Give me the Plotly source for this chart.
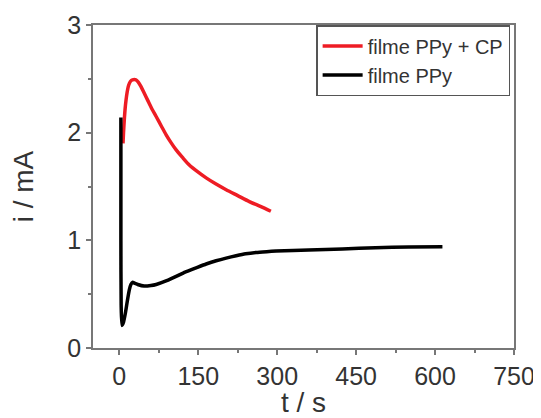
import plotly.graph_objects as go

# Data
t_ppy = [3, 3, 3.5, 5, 8, 11.4, 15, 19, 22, 25, 30, 35, 47, 60, 70, 90, 108, 125, 146,
         165, 184, 203, 222, 240, 260, 280, 298, 330, 360, 424, 487, 550, 614]
i_ppy = [2.14, 1.0, 0.4, 0.21, 0.24, 0.32, 0.43, 0.54, 0.59, 0.61, 0.60, 0.59, 0.575,
         0.58, 0.59, 0.625, 0.665, 0.705, 0.745, 0.78, 0.81, 0.835, 0.857, 0.875, 0.888,
         0.895, 0.90, 0.905, 0.91, 0.92, 0.932, 0.938, 0.94]

t_cp = [7, 8, 9.5, 11, 12.7, 15, 17.7, 21, 25, 31.6, 36, 41, 47, 54, 62, 70, 80, 89,
        98, 108, 120, 133, 148, 165, 183, 203, 225, 247, 268, 288]
i_cp = [1.9, 2.0, 2.12, 2.22, 2.30, 2.38, 2.44, 2.475, 2.49, 2.49, 2.47, 2.43, 2.37,
        2.30, 2.22, 2.15, 2.06, 1.98, 1.91, 1.84, 1.77, 1.70, 1.64, 1.58, 1.525, 1.47,
        1.415, 1.36, 1.315, 1.27]

x_ticks = [0, 150, 300, 450, 600, 750]
y_ticks = [0, 1, 2, 3]

FONT = "Liberation Sans, Arial, sans-serif"

fig = go.Figure()
fig.add_trace(go.Scatter(x=t_cp, y=i_cp, mode="lines", name="filme PPy + CP",
                         line=dict(color="#ee1c24", width=3.5, shape="spline", smoothing=0.8)))
fig.add_trace(go.Scatter(x=t_ppy, y=i_ppy, mode="lines", name="filme PPy",
                         line=dict(color="black", width=3.5, shape="spline", smoothing=0.5)))

axis_common = dict(showline=True, mirror=True, linecolor="#777", linewidth=1.5,
                   ticks="outside", ticklen=5, tickcolor="#777", tickwidth=1.5,
                   showgrid=False, zeroline=False, automargin=False,
                   tickfont=dict(family=FONT, size=25, color="#333"))

# page body has an 8px margin, so the figure is sized/offset to compensate
fig.update_layout(
    width=533, height=410,
    margin=dict(l=85, r=27, t=17, b=70),
    paper_bgcolor="white", plot_bgcolor="white",
    font=dict(family=FONT, color="#333"),
    xaxis=dict(range=[-50, 750], tickvals=x_ticks,
               minor=dict(ticks="outside", ticklen=3, tickcolor="#777", dtick=75, tick0=75),
               title=dict(text="t / s", font=dict(family=FONT, size=28, color="#333"), standoff=0),
               **axis_common),
    yaxis=dict(range=[0, 3], tickvals=y_ticks,
               minor=dict(ticks="outside", ticklen=3, tickcolor="#777", dtick=0.5, tick0=0.5),
               title=dict(text="i / mA", font=dict(family=FONT, size=28, color="#333"), standoff=26),
               **axis_common),
    legend=dict(x=0.53, y=1.0, xanchor="left", yanchor="top",
                bgcolor="white", bordercolor="#555", borderwidth=1.5,
                font=dict(family=FONT, size=20, color="#333"),
                itemwidth=40, tracegroupgap=0),
    showlegend=True,
)

fig.write_html("out.html")
